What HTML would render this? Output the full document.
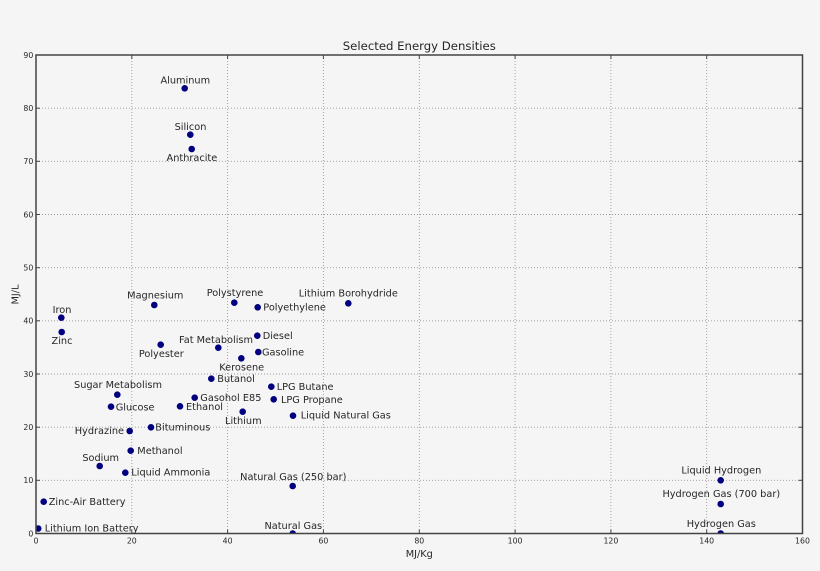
<!DOCTYPE html>
<html>
<head>
<meta charset="utf-8">
<style>
  html, body { margin: 0; padding: 0; background: #f5f5f5; }
  svg { display: block; }
  text { font-family: "DejaVu Sans", "Liberation Sans", sans-serif; fill: #262626; }
  .lbl { font-size: 9.75px; }
  .tick { font-size: 7.8px; }
</style>
</head>
<body>
<svg width="820" height="571" viewBox="0 0 820 571" xmlns="http://www.w3.org/2000/svg">
  <rect x="0" y="0" width="820" height="571" fill="#f5f5f5"/>
  <defs>
    <clipPath id="ax"><rect x="36" y="55" width="766.5" height="478.5"/></clipPath>
  </defs>

  <!-- grid -->
  <g stroke="#9a9a9a" stroke-width="0.9" stroke-dasharray="1 2" fill="none">
    <line x1="131.8" y1="55" x2="131.8" y2="533.5"/>
    <line x1="227.6" y1="55" x2="227.6" y2="533.5"/>
    <line x1="323.4" y1="55" x2="323.4" y2="533.5"/>
    <line x1="419.3" y1="55" x2="419.3" y2="533.5"/>
    <line x1="515.1" y1="55" x2="515.1" y2="533.5"/>
    <line x1="610.9" y1="55" x2="610.9" y2="533.5"/>
    <line x1="706.7" y1="55" x2="706.7" y2="533.5"/>
    <line x1="36" y1="480.3" x2="802.5" y2="480.3"/>
    <line x1="36" y1="427.2" x2="802.5" y2="427.2"/>
    <line x1="36" y1="374" x2="802.5" y2="374"/>
    <line x1="36" y1="320.8" x2="802.5" y2="320.8"/>
    <line x1="36" y1="267.7" x2="802.5" y2="267.7"/>
    <line x1="36" y1="214.5" x2="802.5" y2="214.5"/>
    <line x1="36" y1="161.3" x2="802.5" y2="161.3"/>
    <line x1="36" y1="108.2" x2="802.5" y2="108.2"/>
  </g>

  <!-- ticks -->
  <g stroke="#444" stroke-width="1">
    <!-- bottom/top x ticks -->
    <line x1="131.8" y1="533.5" x2="131.8" y2="529.5"/><line x1="131.8" y1="55" x2="131.8" y2="59"/>
    <line x1="227.6" y1="533.5" x2="227.6" y2="529.5"/><line x1="227.6" y1="55" x2="227.6" y2="59"/>
    <line x1="323.4" y1="533.5" x2="323.4" y2="529.5"/><line x1="323.4" y1="55" x2="323.4" y2="59"/>
    <line x1="419.3" y1="533.5" x2="419.3" y2="529.5"/><line x1="419.3" y1="55" x2="419.3" y2="59"/>
    <line x1="515.1" y1="533.5" x2="515.1" y2="529.5"/><line x1="515.1" y1="55" x2="515.1" y2="59"/>
    <line x1="610.9" y1="533.5" x2="610.9" y2="529.5"/><line x1="610.9" y1="55" x2="610.9" y2="59"/>
    <line x1="706.7" y1="533.5" x2="706.7" y2="529.5"/><line x1="706.7" y1="55" x2="706.7" y2="59"/>
    <!-- left/right y ticks -->
    <line x1="36" y1="480.3" x2="40" y2="480.3"/><line x1="802.5" y1="480.3" x2="798.5" y2="480.3"/>
    <line x1="36" y1="427.2" x2="40" y2="427.2"/><line x1="802.5" y1="427.2" x2="798.5" y2="427.2"/>
    <line x1="36" y1="374" x2="40" y2="374"/><line x1="802.5" y1="374" x2="798.5" y2="374"/>
    <line x1="36" y1="320.8" x2="40" y2="320.8"/><line x1="802.5" y1="320.8" x2="798.5" y2="320.8"/>
    <line x1="36" y1="267.7" x2="40" y2="267.7"/><line x1="802.5" y1="267.7" x2="798.5" y2="267.7"/>
    <line x1="36" y1="214.5" x2="40" y2="214.5"/><line x1="802.5" y1="214.5" x2="798.5" y2="214.5"/>
    <line x1="36" y1="161.3" x2="40" y2="161.3"/><line x1="802.5" y1="161.3" x2="798.5" y2="161.3"/>
    <line x1="36" y1="108.2" x2="40" y2="108.2"/><line x1="802.5" y1="108.2" x2="798.5" y2="108.2"/>
  </g>

  <!-- data points -->
  <g fill="#000080" clip-path="url(#ax)">
    <circle cx="184.7" cy="88.3" r="3.3"/>
    <circle cx="190.3" cy="134.7" r="3.3"/>
    <circle cx="191.7" cy="149" r="3.3"/>
    <circle cx="61.3" cy="317.7" r="3.3"/>
    <circle cx="61.7" cy="332" r="3.3"/>
    <circle cx="154.3" cy="305" r="3.3"/>
    <circle cx="160.7" cy="344.7" r="3.3"/>
    <circle cx="234.3" cy="302.7" r="3.3"/>
    <circle cx="257.7" cy="307.3" r="3.3"/>
    <circle cx="348.3" cy="303.3" r="3.3"/>
    <circle cx="218.3" cy="347.7" r="3.3"/>
    <circle cx="257.3" cy="335.7" r="3.3"/>
    <circle cx="258.3" cy="352" r="3.3"/>
    <circle cx="241.3" cy="358.3" r="3.3"/>
    <circle cx="211.3" cy="378.7" r="3.3"/>
    <circle cx="271.3" cy="386.7" r="3.3"/>
    <circle cx="273.7" cy="399.3" r="3.3"/>
    <circle cx="293" cy="415.7" r="3.3"/>
    <circle cx="117.3" cy="394.7" r="3.3"/>
    <circle cx="111" cy="406.7" r="3.3"/>
    <circle cx="194.7" cy="397.7" r="3.3"/>
    <circle cx="180" cy="406.3" r="3.3"/>
    <circle cx="242.7" cy="411.7" r="3.3"/>
    <circle cx="129.7" cy="431" r="3.3"/>
    <circle cx="151" cy="427.3" r="3.3"/>
    <circle cx="130.7" cy="450.7" r="3.3"/>
    <circle cx="99.7" cy="466" r="3.3"/>
    <circle cx="125.3" cy="472.7" r="3.3"/>
    <circle cx="43.7" cy="501.7" r="3.3"/>
    <circle cx="38.2" cy="528.5" r="3.3"/>
    <circle cx="292.7" cy="486" r="3.3"/>
    <circle cx="292.7" cy="533.5" r="3.3"/>
    <circle cx="720.7" cy="480.3" r="3.3"/>
    <circle cx="720.7" cy="504" r="3.3"/>
    <circle cx="720.7" cy="533.5" r="3.3"/>
  </g>

  <!-- frame -->
  <rect x="36" y="55" width="766.5" height="478.5" fill="none" stroke="#444" stroke-width="1.5"/>

  <!-- centered labels -->
  <g class="lbl" text-anchor="middle">
    <text x="185.3" y="83.5">Aluminum</text>
    <text x="190.5" y="129.8">Silicon</text>
    <text x="191.9" y="161.2">Anthracite</text>
    <text x="62" y="312.8">Iron</text>
    <text x="62" y="344.2">Zinc</text>
    <text x="155.3" y="298.5">Magnesium</text>
    <text x="161.3" y="356.8">Polyester</text>
    <text x="235" y="296.2">Polystyrene</text>
    <text x="216" y="342.8">Fat Metabolism</text>
    <text x="241.7" y="370.5">Kerosene</text>
    <text x="118" y="387.8">Sugar Metabolism</text>
    <text x="243.3" y="423.8">Lithium</text>
    <text x="348.3" y="296.5">Lithium Borohydride</text>
    <text x="100.7" y="460.8">Sodium</text>
    <text x="293.3" y="480.2">Natural Gas (250 bar)</text>
    <text x="293.3" y="529.2">Natural Gas</text>
    <text x="721.3" y="473.5">Liquid Hydrogen</text>
    <text x="721.3" y="497.2">Hydrogen Gas (700 bar)</text>
    <text x="721.3" y="526.8">Hydrogen Gas</text>
  </g>

  <!-- right labels -->
  <g class="lbl" text-anchor="start">
    <text x="263.3" y="310.5">Polyethylene</text>
    <text x="262.7" y="339.2">Diesel</text>
    <text x="262" y="355.5">Gasoline</text>
    <text x="217.3" y="382.2">Butanol</text>
    <text x="276.7" y="390.2">LPG Butane</text>
    <text x="281" y="402.8">LPG Propane</text>
    <text x="300.7" y="418.7">Liquid Natural Gas</text>
    <text x="115.7" y="410.5">Glucose</text>
    <text x="200.3" y="401.2">Gasohol E85</text>
    <text x="186" y="409.8">Ethanol</text>
    <text x="155.3" y="430.7">Bituminous</text>
    <text x="137.3" y="454.2">Methanol</text>
    <text x="131.3" y="475.7">Liquid Ammonia</text>
    <text x="48.7" y="505.1">Zinc-Air Battery</text>
    <text x="44.7" y="531.7">Lithium Ion Battery</text>
  </g>

  <!-- left label -->
  <text class="lbl" x="124" y="434.2" text-anchor="end">Hydrazine</text>

  <!-- x tick labels -->
  <g class="tick" text-anchor="middle">
    <text x="36" y="543.6">0</text>
    <text x="131.8" y="543.6">20</text>
    <text x="227.6" y="543.6">40</text>
    <text x="323.4" y="543.6">60</text>
    <text x="419.3" y="543.6">80</text>
    <text x="515.1" y="543.6">100</text>
    <text x="610.9" y="543.6">120</text>
    <text x="706.7" y="543.6">140</text>
    <text x="802.5" y="543.6">160</text>
  </g>

  <!-- y tick labels -->
  <g class="tick" text-anchor="end">
    <text x="33.3" y="536.3">0</text>
    <text x="33.3" y="483.1">10</text>
    <text x="33.3" y="430">20</text>
    <text x="33.3" y="376.8">30</text>
    <text x="33.3" y="323.6">40</text>
    <text x="33.3" y="270.5">50</text>
    <text x="33.3" y="217.3">60</text>
    <text x="33.3" y="164.1">70</text>
    <text x="33.3" y="111">80</text>
    <text x="33.3" y="57.8">90</text>
  </g>

  <!-- axis labels -->
  <text class="lbl" x="419.3" y="556.8" text-anchor="middle">MJ/Kg</text>
  <text class="lbl" x="0" y="0" text-anchor="middle" transform="translate(18.5,294.5) rotate(-90)">MJ/L</text>

  <!-- title -->
  <text x="419.3" y="50.2" text-anchor="middle" style="font-size:11.7px">Selected Energy Densities</text>
</svg>
</body>
</html>
